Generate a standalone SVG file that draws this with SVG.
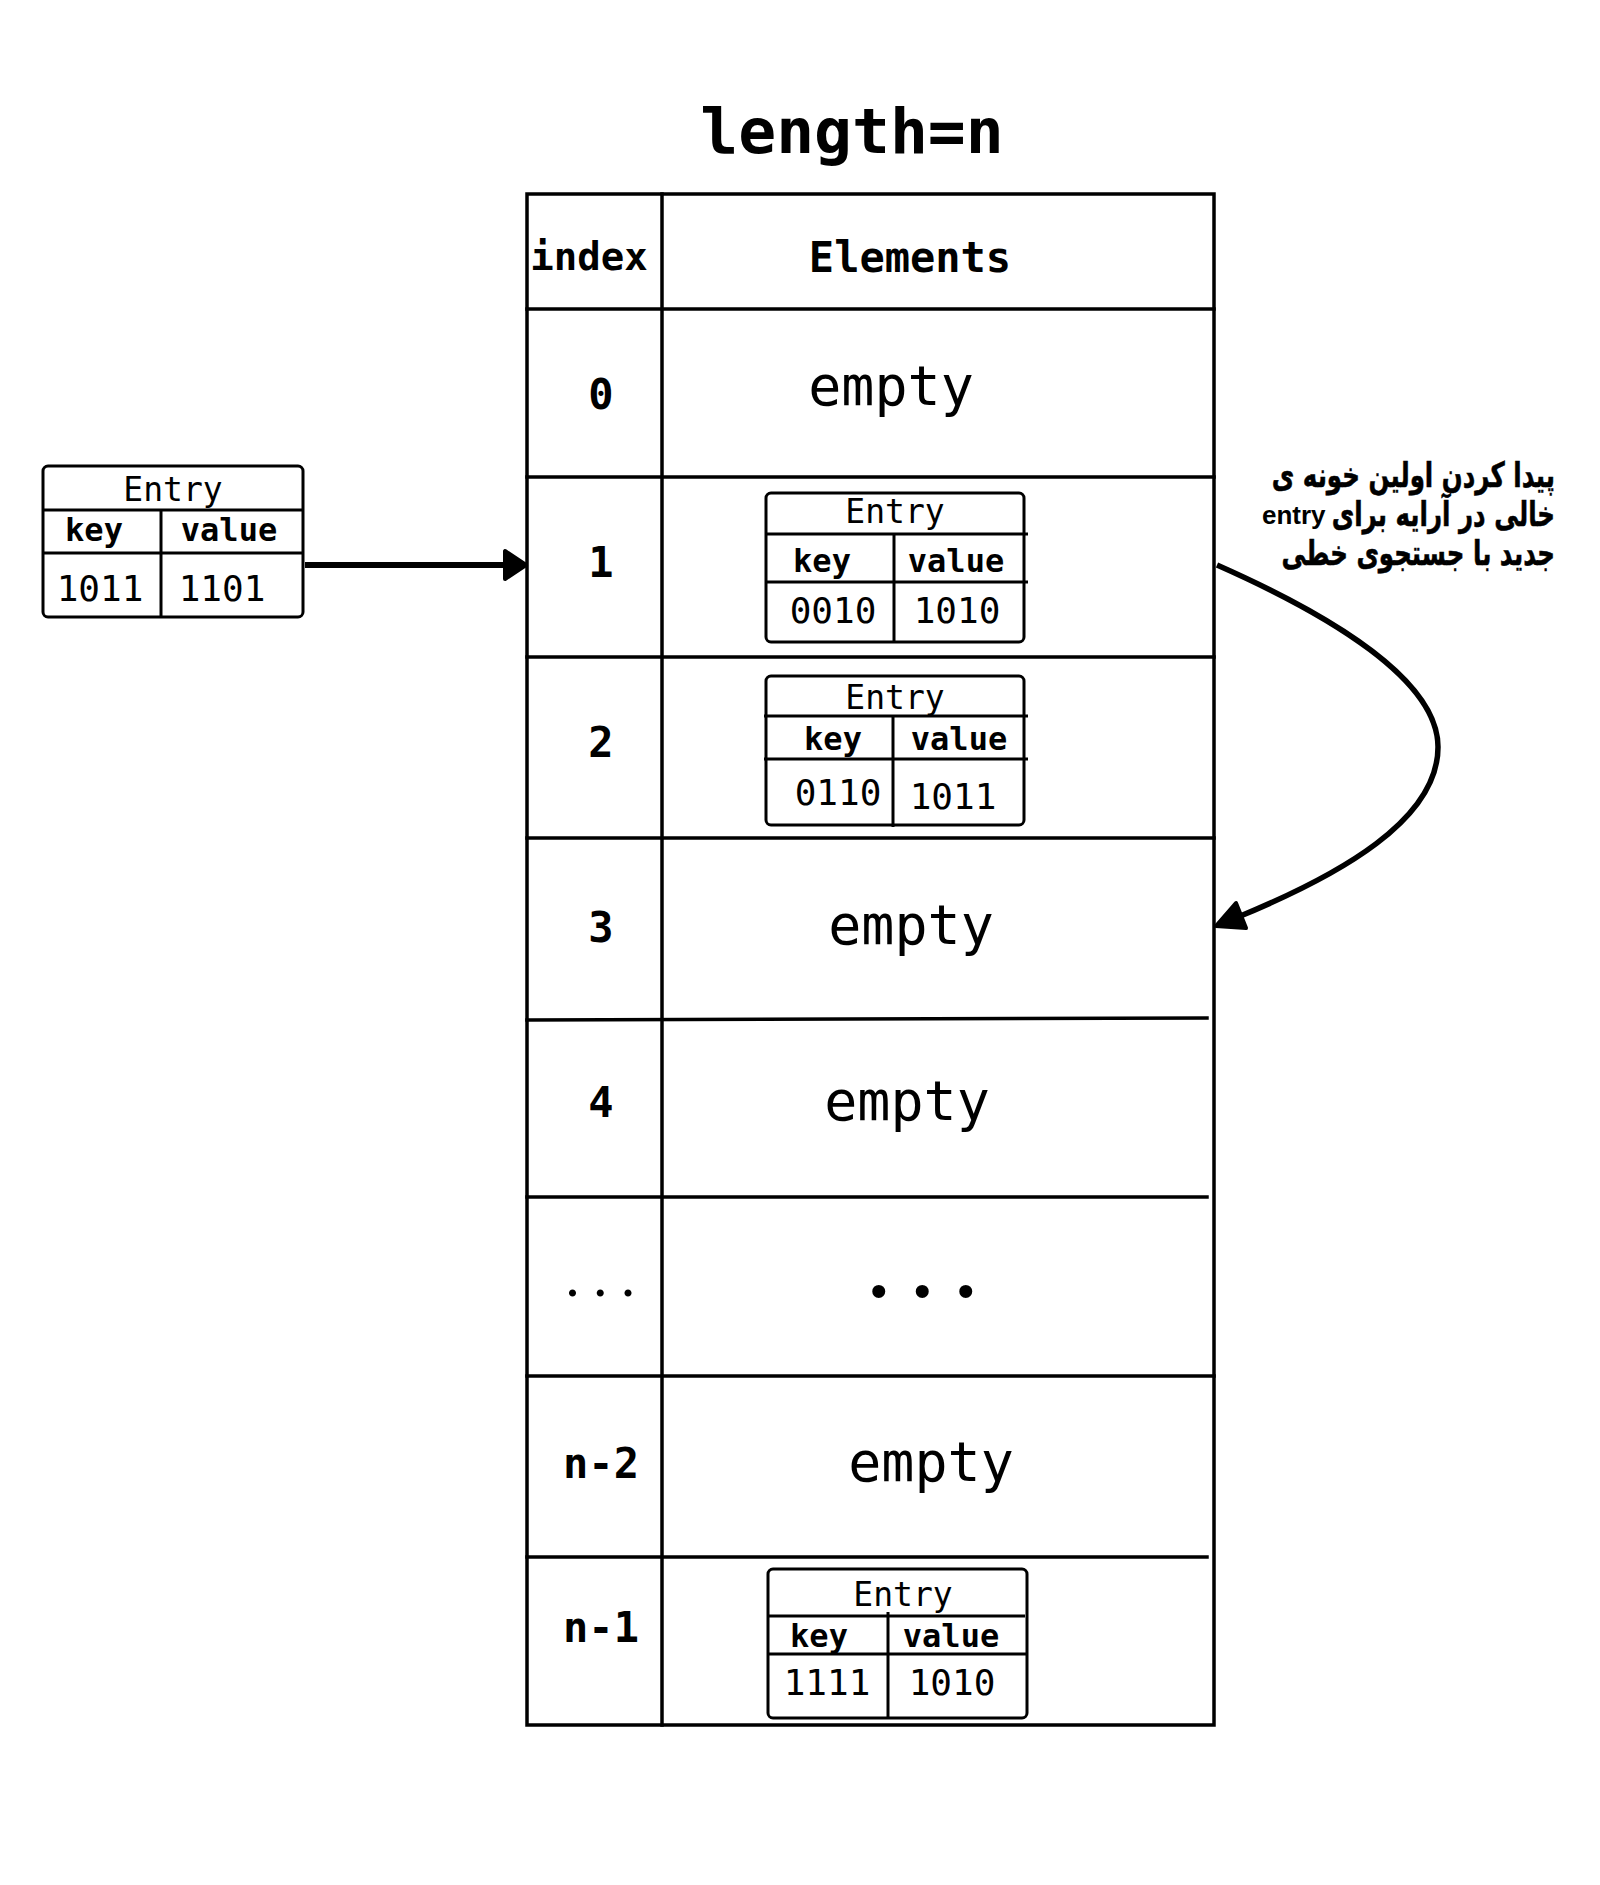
<svg xmlns="http://www.w3.org/2000/svg" width="1600" height="1885" viewBox="0 0 1600 1885">
<style>
.mono{font-family:"DejaVu Sans Mono","Liberation Mono",monospace;fill:#000}
.b{font-weight:bold}
.c{text-anchor:middle}
.ln{stroke:#000;stroke-width:3.5;fill:none;stroke-linecap:square}
.box{stroke:#000;stroke-width:3;fill:#fff}
.bl{stroke:#000;stroke-width:3;fill:none}
.t33{font-size:33px}
.t32{font-size:32px;font-weight:bold}
.t36{font-size:36px}
.idx{font-size:42px;font-weight:bold}
.emp{font-size:55px}
.dots{font-family:"Liberation Serif",serif;fill:#000}
.fa{font-family:"DejaVu Sans",sans-serif;font-weight:bold;font-size:24.5px;fill:#000;stroke:#000;stroke-width:0.4}
.en{font-family:"Liberation Sans",Arial,sans-serif;font-weight:bold;font-size:26px;fill:#000}
</style>
<rect width="1600" height="1885" fill="#fff"/>
<text class="mono b c" x="852" y="153" font-size="63">length=n</text>

<g id="table">
  <rect x="527" y="194" width="687" height="1531" class="ln"/>
  <line x1="662" y1="194" x2="662" y2="1725" class="ln"/>
  <line x1="527" y1="309" x2="1214" y2="309" class="ln"/>
  <line x1="527" y1="477" x2="1214" y2="477" class="ln"/>
  <line x1="527" y1="657" x2="1214" y2="657" class="ln"/>
  <line x1="527" y1="838" x2="1214" y2="838" class="ln"/>
  <line x1="527" y1="1020" x2="1207" y2="1018" class="ln"/>
  <line x1="527" y1="1197" x2="1207" y2="1197" class="ln"/>
  <line x1="527" y1="1376" x2="1214" y2="1376" class="ln"/>
  <line x1="527" y1="1557" x2="1207" y2="1557" class="ln"/>
  <text class="mono b c" x="589" y="270" font-size="39">index</text>
  <text class="mono b c" x="910" y="272" font-size="42">Elements</text>
</g>

<g id="row-0">
  <text class="mono idx c" x="601" y="409">0</text>
  <text class="mono emp c" x="891" y="405">empty</text>
</g>
<g id="row-1">
  <text class="mono idx c" x="601" y="577">1</text>
</g>
<g id="row-2">
  <text class="mono idx c" x="601" y="757">2</text>
</g>
<g id="row-3">
  <text class="mono idx c" x="601" y="942">3</text>
  <text class="mono emp c" x="911" y="944">empty</text>
</g>
<g id="row-4">
  <text class="mono idx c" x="601" y="1117">4</text>
  <text class="mono emp c" x="907" y="1120">empty</text>
</g>
<g id="row-dots">
  <text class="dots" x="565" y="1296" font-size="60" letter-spacing="12.7">...</text>
  <text class="dots" x="865" y="1296" font-size="110" letter-spacing="16">...</text>
</g>
<g id="row-n-2">
  <text class="mono idx c" x="601" y="1478">n-2</text>
  <text class="mono emp c" x="931" y="1481">empty</text>
</g>
<g id="row-n-1">
  <text class="mono idx c" x="601" y="1642">n-1</text>
</g>

<g id="entry-new">
  <rect x="43" y="466" width="260" height="151" rx="5" class="box"/>
  <line x1="43" y1="510" x2="304" y2="510" class="bl"/>
  <line x1="43" y1="553" x2="304" y2="553" class="bl"/>
  <line x1="161" y1="510" x2="161" y2="617" class="bl"/>
  <text class="mono c t33" x="173" y="501">Entry</text>
  <text class="mono c t32" x="94" y="541">key</text>
  <text class="mono c t32" x="229" y="541">value</text>
  <text class="mono c t36" x="100" y="601">1011</text>
  <text class="mono c t36" x="222" y="601">1101</text>
</g>

<g id="entry-1">
  <rect x="766" y="493" width="258" height="149" rx="5" class="box"/>
  <line x1="766" y1="534" x2="1028" y2="534" class="bl"/>
  <line x1="766" y1="582" x2="1028" y2="582" class="bl"/>
  <line x1="894" y1="534" x2="894" y2="643" class="bl"/>
  <text class="mono c t33" x="895" y="523">Entry</text>
  <text class="mono c t32" x="822" y="572">key</text>
  <text class="mono c t32" x="956" y="572">value</text>
  <text class="mono c t36" x="833" y="623">0010</text>
  <text class="mono c t36" x="957" y="623">1010</text>
</g>

<g id="entry-2">
  <rect x="766" y="676" width="258" height="149" rx="5" class="box"/>
  <line x1="764" y1="716" x2="1028" y2="716" class="bl"/>
  <line x1="764" y1="759" x2="1028" y2="759" class="bl"/>
  <line x1="893" y1="716" x2="893" y2="827" class="bl"/>
  <text class="mono c t33" x="895" y="709">Entry</text>
  <text class="mono c t32" x="833" y="750">key</text>
  <text class="mono c t32" x="959" y="750">value</text>
  <text class="mono c t36" x="838" y="805">0110</text>
  <text class="mono c t36" x="953" y="809">1011</text>
</g>

<g id="entry-n-1">
  <rect x="768" y="1569" width="259" height="149" rx="5" class="box"/>
  <line x1="768" y1="1616" x2="1025" y2="1616" class="bl"/>
  <line x1="768" y1="1654" x2="1027" y2="1654" class="bl"/>
  <line x1="888" y1="1612" x2="888" y2="1719" class="bl"/>
  <text class="mono c t33" x="903" y="1606">Entry</text>
  <text class="mono c t32" x="819" y="1647">key</text>
  <text class="mono c t32" x="951" y="1647">value</text>
  <text class="mono c t36" x="827" y="1695">1111</text>
  <text class="mono c t36" x="952" y="1695">1010</text>
</g>

<g id="note">
  <g transform="translate(1555,487) scale(1,1.42)">
    <text class="fa" direction="rtl" text-anchor="start" x="0" y="0">پیدا کردن اولین خونه ی</text>
  </g>
  <g transform="translate(1555,526) scale(1,1.42)">
    <text class="fa" direction="rtl" text-anchor="start" x="0" y="0">خالی در آرایه برای</text>
  </g>
  <text class="en" x="1262" y="524">entry</text>
  <g transform="translate(1555,565) scale(1,1.42)">
    <text class="fa" direction="rtl" text-anchor="start" x="0" y="0">جدید با جستجوی خطی</text>
  </g>
</g>

<g id="connectors">
  <line x1="305" y1="565" x2="510" y2="565" stroke="#000" stroke-width="6"/>
  <polygon points="526,565 505,551 505,579" fill="#000" stroke="#000" stroke-width="4" stroke-linejoin="round"/>
  <path d="M1217,565 C1330,615 1438,680 1438,747 C1438,820 1340,875 1238,917" fill="none" stroke="#000" stroke-width="5.5"/>
  <polygon points="1216,926 1246,928 1236,903" fill="#000" stroke="#000" stroke-width="4" stroke-linejoin="round"/>
</g>
</svg>
